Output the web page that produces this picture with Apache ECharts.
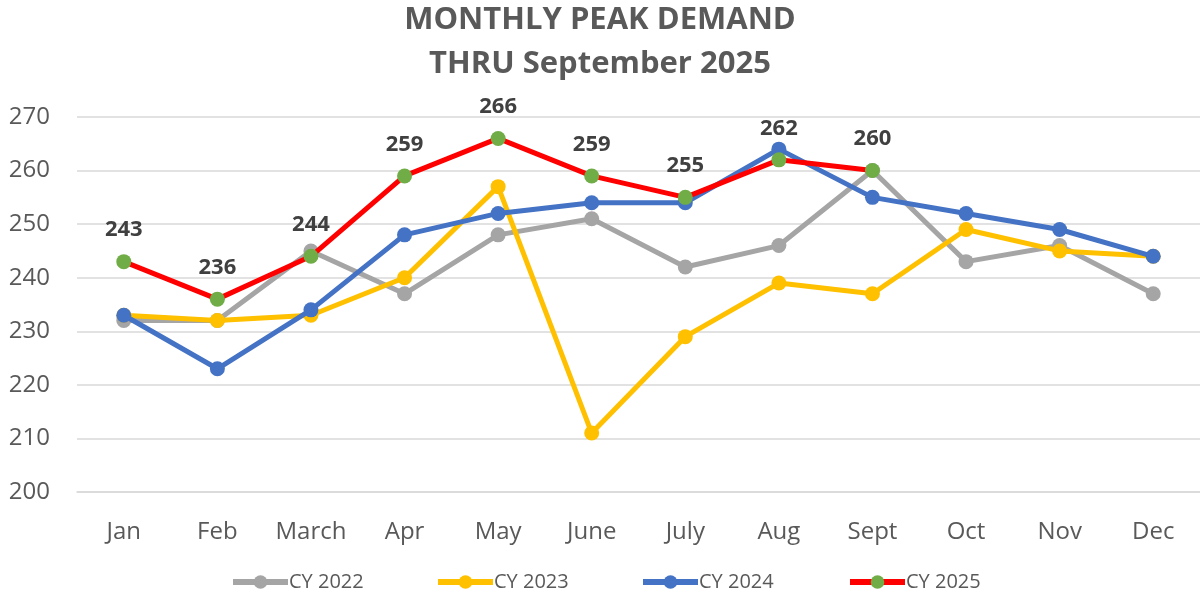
<!DOCTYPE html>
<html>
<head>
<meta charset="utf-8">
<script src="https://cdn.jsdelivr.net/npm/echarts@6/dist/echarts.min.js"></script>
<style>html,body{margin:0;padding:0;background:#fff}#c{width:1200px;height:597px}</style>
</head>
<body>
<div id="c"></div>
<script>
const categories = ['Jan','Feb','March','Apr','May','June','July','Aug','Sept','Oct','Nov','Dec'];
const cy2022 = [232,232,245,237,248,251,242,246,260,243,246,237];
const cy2023 = [233,232,233,240,257,211,229,239,237,249,245,244];
const cy2024 = [233,223,234,248,252,254,254,264,255,252,249,244];
const cy2025 = [243,236,244,259,266,259,255,262,260];
const seriesNames = ['CY 2022','CY 2023','CY 2024','CY 2025'];
const yTicks = {min:200, max:270, interval:10};

const font = "'Open Sans', 'Liberation Sans', sans-serif";
const chart = echarts.init(document.getElementById('c'));

function lineSeries(name, data, lineColor, pointColor, z, label) {
  return {
    name: name, type: 'line', data: data, z: z,
    symbol: 'circle', symbolSize: 15,
    lineStyle: {color: lineColor, width: 5},
    itemStyle: {color: pointColor},
    label: label ? {show: true, position: 'top', distance: 13, fontFamily: font,
      fontWeight: 'bold', fontSize: 22, color: '#404040'} : {show: false},
    emphasis: {disabled: true},
    animation: false
  };
}

const legendLefts = [230, 435, 640, 847];
chart.setOption({
  backgroundColor: '#fff',
  title: {
    text: 'MONTHLY PEAK DEMAND\nTHRU September 2025',
    left: 'center', top: -2, padding: 0,
    textStyle: {fontFamily: font, fontSize: 31, fontWeight: 'bold', color: '#595959', lineHeight: 44}
  },
  legend: seriesNames.map((n, i) => ({
    data: [n], left: legendLefts[i], top: 572, itemWidth: 55, itemHeight: 17, padding: 0,
    lineStyle: {width: 6},
    textStyle: {fontFamily: font, fontSize: 20, color: '#595959', padding: [0,0,0,-4]},
    selectedMode: false
  })),
  grid: {left: 77, right: 0, top: 117, bottom: 105},
  xAxis: {
    type: 'category', data: categories, boundaryGap: true,
    axisLine: {show: true, lineStyle: {color: '#d9d9d9', width: 1.5}},
    axisTick: {show: false},
    axisLabel: {fontFamily: font, fontSize: 24, color: '#595959', margin: 28}
  },
  yAxis: {
    type: 'value', min: yTicks.min, max: yTicks.max, interval: yTicks.interval,
    axisLine: {show: false}, axisTick: {show: false},
    splitLine: {lineStyle: {color: '#d9d9d9', width: 1.5}},
    axisLabel: {fontFamily: font, fontSize: 24, color: '#595959', margin: 27}
  },
  series: [
    lineSeries(seriesNames[0], cy2022, '#A5A5A5', '#A5A5A5', 2, false),
    lineSeries(seriesNames[1], cy2023, '#FFC000', '#FFC000', 3, false),
    lineSeries(seriesNames[2], cy2024, '#4472C4', '#4472C4', 4, false),
    lineSeries(seriesNames[3], cy2025, '#FF0000', '#70AD47', 5, true)
  ]
});
</script>
</body>
</html>
